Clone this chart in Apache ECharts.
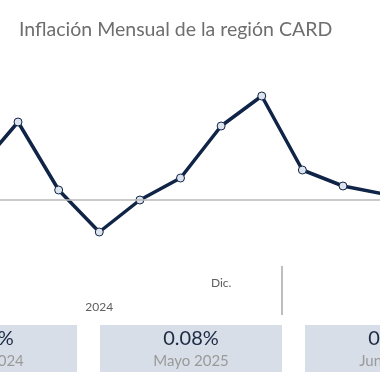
<!DOCTYPE html>
<html>
<head>
<meta charset="utf-8">
<script src="https://cdn.jsdelivr.net/npm/echarts@6/dist/echarts.min.js"></script>
<style>
html,body{margin:0;padding:0;background:#fff;}
#chart{width:380px;height:380px;}
</style>
</head>
<body>
<div id="chart"></div>
<script>
// Data
const months = ['Jun.', 'Jul.', 'Ago.', 'Sep.', 'Oct.', 'Nov.', 'Dic.', 'Ene.', 'Feb.', 'Mar.', 'Abr.'];
const inflation = [0.15, 0.39, 0.05, -0.16, 0.00, 0.11, 0.37, 0.52, 0.15, 0.07, 0.03];
const yearLabels = ['2024'];
const yearLabelIndex = [3];
const monthLabelIndex = [6];
const yearSeparator = [7.5];
const boxValues = ['0.29%', '0.08%', '0.05%'];
const boxLabels = ['Mayo 2024', 'Mayo 2025', 'Junio 2025'];

const chart = echarts.init(document.getElementById('chart'));
const seriesData = inflation.map((v, i) => [i, v]);

const FONT = 'Lato';
const boxW = 182, boxStep = 205, boxX0 = -105, boxTop = 325, boxH = 47;
const graphics = [];
boxValues.forEach((v, i) => {
  const x = boxX0 + i * boxStep;
  graphics.push({type:'rect', left:x, top:boxTop, shape:{width:boxW, height:boxH}, style:{fill:'#d8dee7'}, z:1});
  graphics.push({type:'text', x:x + boxW/2, y:339, style:{text:v, fill:'#1b2a44', font:'20px ' + FONT, textAlign:'center', textVerticalAlign:'middle'}, z:2});
  graphics.push({type:'text', x:x + boxW/2, y:361, style:{text:boxLabels[i], fill:'#9a9a9a', font:'15px ' + FONT, textAlign:'center', textVerticalAlign:'middle'}, z:2});
});

const xMin = 0.556, xMax = 9.911;
chart.setOption({
  animation:false,
  title:{text:'Inflación Mensual de la región CARD', left:14, top:15,
    textStyle:{fontFamily:FONT, fontSize:19.5, fontWeight:'normal', color:'#6e6e6e'}},
  grid:[
    {left:0, right:0, top:60, bottom:120},
    {left:0, right:0, top:266, height:49}
  ],
  xAxis:[
    {gridIndex:0, type:'value', min:xMin, max:xMax, position:'bottom',
      axisLine:{show:false}, axisTick:{show:false}, splitLine:{show:false},
      axisLabel:{customValues:monthLabelIndex, formatter:(v)=>months[Math.round(v)], margin:17,
        color:'#606060', fontFamily:FONT, fontSize:12}},
    {gridIndex:0, type:'value', min:xMin, max:xMax, position:'bottom', offset:25,
      axisLine:{show:false}, axisTick:{show:false}, splitLine:{show:false},
      axisLabel:{customValues:yearLabelIndex, formatter:(v)=>yearLabels[yearLabelIndex.indexOf(Math.round(v))], margin:16,
        color:'#606060', fontFamily:FONT, fontSize:12}},
    {gridIndex:1, type:'value', min:xMin, max:xMax, show:false}
  ],
  yAxis:[
    {gridIndex:0, type:'value', min:-0.3, max:0.7, show:false},
    {gridIndex:1, type:'value', min:0, max:1, show:false}
  ],
  series:[
    {type:'line', xAxisIndex:0, yAxisIndex:0, data:seriesData,
      symbol:'circle', symbolSize:8,
      lineStyle:{color:'#0f2446', width:3.5},
      itemStyle:{color:'#dde4ee', borderColor:'#0f2446', borderWidth:1},
      markLine:{silent:true, symbol:'none', label:{show:false},
        lineStyle:{color:'#b8b8b8', width:1.5, type:'solid'},
        data:[{yAxis:0}]},
      z:3},
    {type:'line', xAxisIndex:2, yAxisIndex:1, data:[],
      markLine:{silent:true, symbol:'none', label:{show:false},
        lineStyle:{color:'#a8a8a8', width:1.5, type:'solid'},
        data:yearSeparator.map(v=>({xAxis:v}))}}
  ],
  graphic:graphics
});
</script>
</body>
</html>
